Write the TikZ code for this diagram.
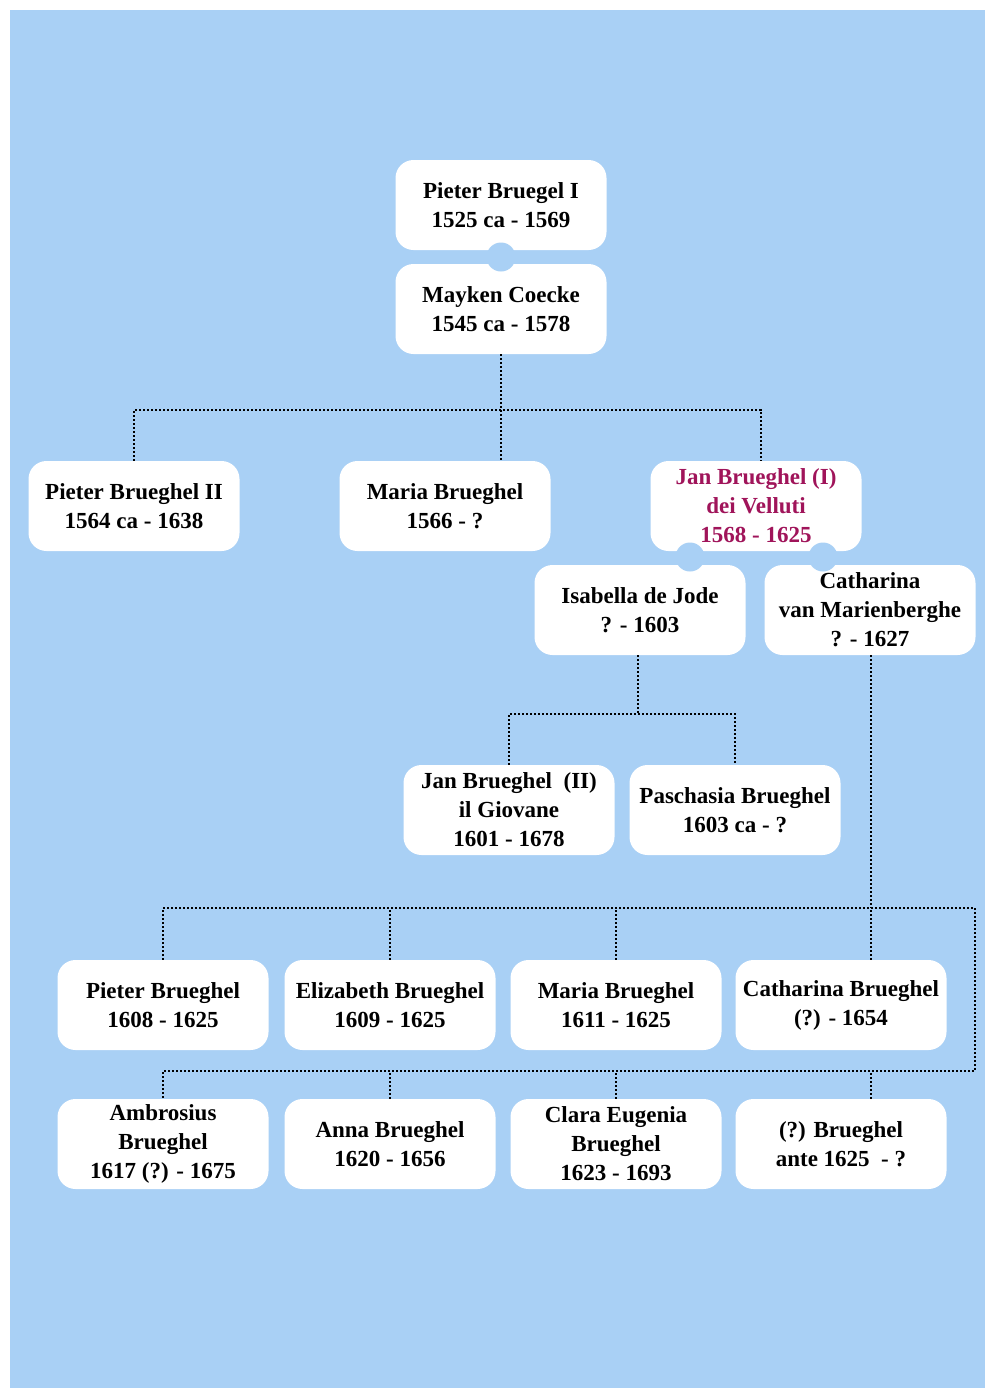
\documentclass[tikz,border=0pt]{standalone}
\usepackage{fontspec}
\setmainfont{Liberation Serif}
\usepackage{tikz}
\usetikzlibrary{positioning}
\definecolor{sky}{RGB}{169,208,245}
\definecolor{wine}{RGB}{160,20,90}

\begin{document}
\begin{tikzpicture}[x=0.5pt, y=-0.5pt]
	\tikzstyle{person} = [fill=white, rounded corners=9pt, minimum width=105.5pt, minimum height=45pt, inner sep=1pt, align=center, font=\fontsize{11.5}{14.5}\selectfont\bfseries]
	\tikzstyle{knot} = [circle, fill=sky, minimum size=14.5pt, inner sep=0pt]
	\tikzstyle{link} = [draw, line width=1.1pt, dash pattern=on 1pt off 1pt]
	\useasboundingbox (0,0) rectangle (985,1388);
	\fill[sky] (10,10) rectangle (985,1388);
	\begin{scope}
	  \path
	  node[person] (PB) at (501,205) {Pieter Bruegel I\\1525 ca - 1569}
	  node[person] (MC) at (501,309) {Mayken Coecke\\1545 ca - 1578}
	  node[person] (PB2) at (134,506) {Pieter Brueghel II\\1564 ca - 1638}
	  node[person] (MA) at (445,506) {Maria Brueghel\\1566 - ?}
	  node[person, text=wine] (JB) at (756,506) {Jan Brueghel (I)\\dei Velluti\\1568 - 1625}
	  node[person] (IJ) at (640,610) {Isabella de Jode\\? - 1603}
	  node[person] (CM) at (870,610) {Catharina\\van Marienberghe\\? - 1627}
	  node[person] (JB2) at (509,810) {Jan Brueghel~~(II)\\il Giovane\\1601 - 1678}
	  node[person] (PA) at (735,810) {Paschasia Brueghel\\1603 ca - ?}
	  node[person] (PB3) at (163,1005) {Pieter Brueghel\\1608 - 1625}
	  node[person] (EB) at (390,1005) {Elizabeth Brueghel\\1609 - 1625}
	  node[person] (MB) at (616,1005) {Maria Brueghel\\1611 - 1625}
	  node[person] (CB) at (841,1005) {Catharina Brueghel\\(?) - 1654}
	  node[person] (AM) at (163,1144) {Ambrosius\\Brueghel\\1617 (?) - 1675}
	  node[person] (AN) at (390,1144) {Anna Brueghel\\1620 - 1656}
	  node[person] (CE) at (616,1144) {Clara Eugenia\\Brueghel\\1623 - 1693}
	  node[person] (QB) at (841,1144) {(?) Brueghel\\ante 1625~~- ?}
	  ;
	  \path
	  node[knot] (k1) at (501,257) {}
	  node[knot] (k2) at (690,557) {}
	  node[knot] (k3) at (823,557) {}
	  ;
	  \coordinate (b1) at (501,410);
	  \coordinate (b1r) at (761,410);
	  \coordinate (b2) at (638,714);
	  \coordinate (b3) at (871,908);
	  \coordinate (r1) at (975,908);
	  \coordinate (r2) at (975,1071);
	  \draw[link] (MC.south) -- (b1);
	  \draw[link] (PB2.north) |- (b1r) -- (JB.north -| b1r);
	  \draw[link] (b1) -- (MA.north -| b1);
	  \draw[link] (IJ.south -| b2) -- (b2);
	  \draw[link] (JB2.north) |- (b2) -| (PA.north);
	  \draw[link] (CM.south -| b3) -- (b3);
	  \draw[link] (PB3.north) |- (r1) -- (r2) -| (AM.north);
	  \draw[link] (EB.north) -- (EB.north |- r1);
	  \draw[link] (MB.north) -- (MB.north |- r1);
	  \draw[link] (CB.north -| b3) -- (b3);
	  \draw[link] (AN.north) -- (AN.north |- r2);
	  \draw[link] (CE.north) -- (CE.north |- r2);
	  \draw[link] (QB.north -| b3) -- (b3 |- r2);
	\end{scope}
\end{tikzpicture}
\end{document}
